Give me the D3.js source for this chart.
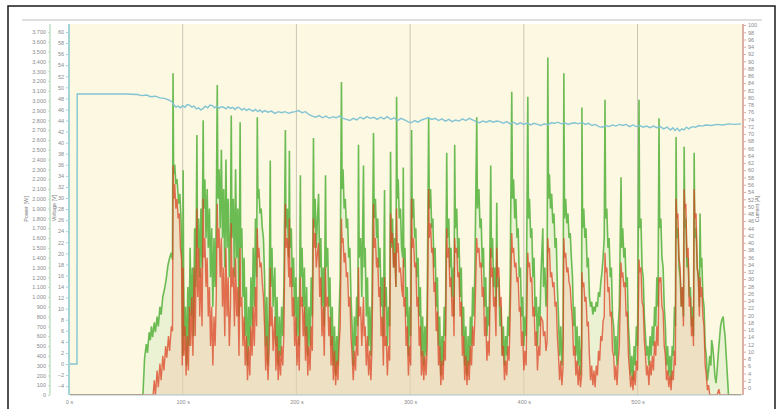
<!DOCTYPE html>
<html>
<head>
<meta charset="utf-8">
<title>Power / Voltage log</title>
<script src="https://d3js.org/d3.v7.min.js"></script>
<style>
  body { margin: 0; background: #fff; }
  svg { display: block; font-family: "Liberation Sans", Arial, sans-serif; }
</style>
</head>
<body>
<svg id="chart" width="778" height="409"></svg>
<script>
// tick labels
let timeTicks = [0, 100, 200, 300, 400, 500];
let powerTicks = d3.range(0, 3701, 100);
let voltTicks = d3.range(-4, 61, 2);
let rightTicks = d3.range(0, 101, 2);

// battery voltage [s, V]
let voltage = [[0,0],[7,0],[7.2,48.8],[30,48.8],[50,48.8],[60,48.7],[64,48.5],[68,48.6],[72,48.3],[76,48.4],[80,48.1],[84,48.0],[88,47.7],[90.5,47.4],[92,46.9],[94,46.4],[96,46.6],[98,46.3],[100,46.7],[102,46.4],[104,46.9],[106,46.8],[108,46.4],[110,46.6],[112,46.1],[114,46.3],[116,45.9],[118,46.2],[120,46.6],[122,46.3],[124,46.8],[126,46.7],[128,46.3],[130,46.6],[132,46.2],[134,46.5],[136,46.4],[138,46.1],[140,46.5],[142,46.2],[144,46.4],[146,46.0],[148,46.4],[150,46.3],[152,45.9],[154,46.2],[156,45.8],[158,46.1],[160,45.9],[162,45.7],[164,46.0],[166,45.6],[168,45.9],[170,45.5],[172,45.8],[175,45.5],[178,45.7],[181,45.3],[184,45.6],[187,45.4],[190,45.6],[193,45.3],[196,45.5],[199,45.6],[202,45.8],[205,45.4],[208,45.6],[211,45.1],[214,44.8],[217,44.6],[220,44.9],[223,44.5],[226,44.8],[229,44.4],[232,44.7],[235,44.5],[238,44.8],[241,44.4],[244,44.2],[247,44.0],[250,44.4],[253,44.1],[256,44.6],[259,44.3],[262,44.7],[265,44.4],[268,44.6],[271,44.2],[274,44.6],[277,44.3],[280,44.7],[283,44.2],[286,44.5],[289,44.0],[292,44.4],[295,44.1],[298,43.8],[301,43.6],[304,44.0],[307,43.7],[310,44.1],[313,44.3],[316,44.5],[319,44.2],[322,44.4],[325,44.0],[328,44.3],[331,43.9],[334,44.2],[337,43.8],[340,44.1],[343,43.9],[346,44.3],[349,44.0],[352,44.4],[355,44.1],[358,43.8],[361,43.6],[364,43.9],[367,43.7],[370,44.0],[373,43.7],[376,43.9],[379,43.8],[382,43.5],[385,43.8],[388,43.4],[391,43.7],[394,43.3],[397,43.6],[400,43.3],[403,43.6],[406,43.2],[409,43.5],[412,43.3],[415,43.1],[418,43.4],[421,43.2],[424,43.6],[427,43.5],[430,43.7],[433,43.4],[436,43.6],[439,43.3],[442,43.5],[445,43.6],[448,43.4],[451,43.7],[454,43.3],[457,43.5],[460,43.1],[463,43.3],[466,42.9],[469,42.8],[472,43.1],[475,42.9],[478,43.2],[481,43.0],[484,43.3],[487,43.1],[490,43.3],[493,42.9],[496,43.2],[499,42.9],[502,43.1],[505,42.8],[508,43.0],[511,42.7],[514,43.0],[517,42.7],[520,42.9],[523,42.5],[526,42.8],[529,42.3],[531,42.7],[533,42.2],[535,42.6],[537,42.1],[539,42.5],[541,42.3],[543,42.8],[545,42.5],[548,42.9],[551,42.8],[554,43.1],[557,43.0],[560,43.2],[565,43.1],[570,43.3],[575,43.2],[580,43.4],[585,43.3],[591,43.4]];

// motor power [s, W]
let powerGreen = [[0,0],[65,0],[66.5,380],[68,520],[69,430],[70.5,640],[71.5,560],[72.5,700],[73.5,590],[75,740],[76,640],[77.5,800],[78.5,700],[80,900],[81,820],[82.5,1000],[84,1080],[85.5,1180],[87,1320],[88.5,1400],[90,1450],[91,1380],
[91.5,3280],[92,2250],[93,2350],[94,2150],[95,2200],[96.5,1950],[97.5,2050],[98.5,1800],[99.5,1300],[100,400],[100.4,2290],[100.8,1200],[101.5,600],[102.5,900],[103.5,300],[104.5,1100],[105.5,500],[106.5,1500],[107.5,800],[108.5,1300],[109.5,600],[110.5,1700],[111.5,1100],[112.5,2650],[113,1500],[114,1800],[115,1200],[116,1900],[117,1300],
[118,2800],[118.5,1900],[119.5,2200],[120.5,1600],[121.5,2100],[122.5,1500],[123.5,1900],[124.5,1200],[125.5,1700],[126.5,900],[127.5,1600],[128.5,1100],[129.5,1800],
[130.4,3160],[131,2000],[132,2300],[133,1700],[134,2500],[135,1600],[136,2100],[137,1300],[138,2400],[139,1500],[140,2000],[141,1200],[142,1700],
[142.7,2850],[143.3,1600],[144.5,2000],[145.5,1200],[146.5,2300],[147.5,1400],[148.5,1900],[149.5,800],[150.5,2780],[151,1500],[152,1700],[153,1000],[154,1400],[155,600],[156,1100],[157,300],[158,900],[159,500],[160,1200],[161,700],[162,1500],[163,900],[164,1800],[165,1200],
[165.6,2830],[166.2,2000],[167,2100],[168,1850],[169,1900],[170,1700],[171,1600],[172,1200],[173,500],[174,1000],[175,300],[176,800],[177,2390],[177.5,1100],[178.5,1500],[179.5,900],[181,1300],[182,500],[183,1000],[184,300],[185,800],[186,400],[187,900],[188,600],[189,1100],
[190.3,2700],[190.8,1700],[192,1900],[193.3,1400],[193.8,2490],[194.3,1500],[195.5,1700],[196.5,1100],[197.5,1400],[198.5,800],[199.5,1200],[200.5,600],[201.5,1000],[202.5,500],
[203.5,2240],[204,1200],[205,1500],[206,900],[207,1300],[208,600],[209,1100],[210,400],[211,900],[212,500],[213,1200],[214,800],
[215,2620],[215.5,1700],[216.5,2000],[217.5,1500],[218.5,1800],[219.5,2050],[220.5,1300],[221.5,1600],[222.5,900],[223.5,1300],[224.5,700],
[225.6,2240],[226.2,1300],[227.5,1500],[228.5,900],[229.5,1200],[230.5,500],[231.5,900],[232.5,300],[233.5,700],[234.5,200],[235.5,600],[236.5,300],[237.5,800],[238.5,1200],
[239.6,3190],[240.2,2100],[241,2300],[242,1900],[243,2000],[244,1700],[245,1800],[246,1400],[247,1500],[248,1000],[249,700],[250,300],[251,800],[252,500],[253,1000],[254,700],
[254.6,2550],[255.2,1400],[256.5,1600],[257.5,1000],[259,2340],[259.6,1300],[260.5,1500],[261.5,800],[262.5,1200],[263.5,500],[264.5,900],[265.5,400],[266.5,1000],
[267.8,2670],[268.4,1800],[269.5,2000],[270.5,1600],[271.5,1800],[272.5,1300],[273.5,1500],[274.5,900],[275.5,1200],[276.5,600],[277.5,2090],[278,900],[279,1100],[280,500],[281,900],[282,700],
[282.8,2480],[283.4,1500],[284.5,1800],[285.5,1300],[286.5,1600],[287.5,1100],
[288.1,3040],[288.7,2000],[289.5,2200],[290.5,1800],[291.5,1900],[292.5,1500],[293.5,1400],[294,2320],[294.5,1300],[295.5,1500],[296.5,800],[297.5,1100],[298.5,400],[299.5,900],[300.5,600],
[301.3,2700],[301.9,1800],[303,2000],[304,1600],[305,1700],[306,1200],[307,1400],[308,800],[309,1100],[310,400],[311,800],[312,300],[313,700],[314,400],[315,900],
[316.3,2830],[316.9,1900],[318,2100],[319,1700],[320,1800],[321,1300],[322,1500],[323,900],[324,1200],[325,500],[326,800],[327,200],[328,600],[329,300],[330,900],[331,600],
[332.2,2470],[332.8,1600],[334,1800],[335,1300],[336,1500],[337,1000],[338,1300],[338.6,800],
[339.2,2550],[339.8,1700],[341,1900],[342,1400],[343,1600],[344,1000],[345,1300],[346,600],[347,900],[348,300],[349,700],[350,200],[351,600],[352,300],[353,800],[354,500],[355,1100],[356,800],[357,1300],
[358.6,2830],[359.2,1900],[360.5,2100],[361.5,1700],[362.5,1800],[363.5,1300],[364.5,1500],[365.5,900],[366.5,1200],[367.5,600],[368.5,900],[369.5,700],
[370.9,2340],[371.5,1400],[372.5,1600],[373.5,1100],[374.5,1300],[375.5,900],
[376.2,1960],[376.8,1100],[378,1200],[379,700],[380,900],[381,400],[382,700],[383,300],[384,600],[385,400],[386,800],[387,600],[388,1200],
[389.4,3090],[390,2000],[391,2200],[392,1800],[393,2000],[394,1600],[395,1700],[396,1200],[397,1300],[398,800],[399,1000],[400,500],[401,800],[402,600],
[403.5,3040],[404.1,1800],[405,2000],[406,1600],[407,1700],[408,1200],[409,1400],[410,800],[411,1000],[412,500],[413,900],[414,700],[415,1200],
[416.7,1700],[417.3,1100],[418.5,1300],[419.5,900],[420.5,1200],
[421.1,3440],[421.7,2000],[422.5,2250],[423.5,1900],[424.5,2050],[425.5,1750],[426.5,1850],[427.5,1500],[428.5,1600],[429.5,1100],[430.5,800],[431.5,400],[432.5,700],[433.5,300],[434.5,600],
[435.2,3280],[435.8,1800],[436.8,2000],[437.8,1750],[438.8,1850],[439.8,1600],[440.8,1650],[441.8,1400],[442.8,1200],[443.8,700],[444.8,900],[445.8,400],[446.8,700],[447.8,300],[448.8,600],[449.8,200],[450.8,500],
[451.1,2930],[451.7,1700],[452.7,1900],[453.7,1600],[454.7,1700],[455.7,1300],[456.7,1400],[457.7,1000],[458.7,900],[459.7,950],[460.7,820],[461.7,900],[462.7,850],[463.7,950],[464.7,900],[465.7,1050],[466.7,1000],[467.7,1150],[468.7,1250],[469.7,1400],[470.7,1600],
[471.4,3010],[472,1800],[473,1900],[474,1500],[475,1600],[476,1200],[477,1300],[478,800],[479,700],[480,400],[481,600],[482,300],[483,700],[484,900],
[485.5,2220],[486.1,1500],[487,1700],[488,1400],[489,1500],[490,1100],[491,1200],[492,700],[493,500],[494,200],[495,400],[496,150],[497,500],[498,300],[499,700],[500,500],
[501.3,3010],[501.9,1700],[503,1800],[504,1300],[505,1200],[506,800],[507,600],[508,400],[509,500],[510,300],[511,600],[512,400],[513,700],[514,500],[515,900],[516,700],[517,1200],[518,900],
[518.9,2820],[519.5,1700],[520.5,1800],[521.5,1400],[522.5,1300],[523.5,900],[524.5,700],[525.5,300],[526.5,500],[527.5,200],[528.5,400],[529.5,150],[530.5,500],[531.5,400],[532.5,900],[533.3,700],
[533.9,2630],[534.5,1600],[535.5,1700],[536.5,1300],[537.5,1200],[538.5,900],[539.5,1100],[540.4,800],
[541,2530],[541.6,1700],[542.5,1800],[543.5,1300],[544.5,1400],[545.5,1000],[546.5,1100],[547.5,700],[548.5,900],[549.2,600],
[549.8,2470],[550.4,1600],[551.5,1700],[552.5,1300],[553.5,1200],[554.4,900],
[555,1850],[555.6,1300],[556.5,1400],[557.5,1000],[558.5,900],[559.5,500],[560.5,400],[561.5,150],[562.5,250],[563.5,400],[564.5,300],
[565.2,560],[566,500],[567,380],[568,200],[569,120],[570,250],[571,420],[572,560],[573,700],[574,760],[575.3,800],[576,700],[577,600],[578,400],[579,200],[580,0],[591,0]];

// battery side power [s, W]
let powerRed = [[0,0],[74,0],[75,150],[76,0],[77.5,250],[78.5,80],[80,320],[81,150],[82.5,400],[83.5,250],[85,500],[86,380],[87.5,600],[88.5,450],[90,700],[91,650],
[91.6,2340],[92.2,2000],[93,2150],[94,1900],[95,2000],[96,1800],[97,1850],[98,1500],[99,1380],[99.6,300],[100.4,1300],[101,400],[102,700],[103,200],[104,600],[105,250],[106,900],[107,500],[108,1000],[109,400],
[110,1300],[111,600],[112.5,1900],[113.2,1000],[114,1500],[115,800],[116,1300],[117,700],
[118,2000],[118.6,1400],[119.5,1600],[120.5,1100],[121.5,1400],[122.5,800],[123.5,1100],[124.5,500],[125.5,900],[126.5,300],[127.5,800],[128.5,500],[129.5,1000],
[130.4,1950],[131,1500],[132,1700],[133,1200],[134,1600],[135,900],[136,1300],[137,600],[138,1500],[139,800],[140,1200],[141,500],[142,900],
[142.7,1750],[143.3,1100],[144.5,1300],[145.5,700],[146.5,1400],[147.5,800],[148.5,1100],[149.5,400],[150.5,1500],[151,900],[152,1000],[153,500],[154,800],[155,300],[156,600],[157,150],[158,500],[159,200],[160,700],[161,400],[162,900],[163,500],[164,1100],[165,700],
[165.6,1700],[166.2,1400],[167,1500],[168,1300],[169,1350],[170,1150],[171,1000],[172,700],[173,250],[174,600],[175,150],[176,450],[177,1300],[177.5,700],[178.5,900],[179.5,450],[181,800],[182,250],[183,600],[184,150],[185,450],[186,200],[187,500],[188,300],[189,650],
[190.3,1950],[190.8,1500],[192,1600],[193.3,1200],[193.8,1800],[194.3,1100],[195.5,1300],[196.5,800],[197.5,1000],[198.5,500],[199.5,800],[200.5,300],[201.5,600],[202.5,250],
[203.5,1200],[204,900],[205,1000],[206,600],[207,900],[208,350],[209,700],[210,200],[211,500],[212,250],[213,700],[214,450],
[215,1800],[215.5,1500],[216.5,1650],[217.5,1300],[218.5,1450],[219.5,1550],[220.5,1000],[221.5,1200],[222.5,600],[223.5,900],[224.5,400],
[225.6,1300],[226.2,900],[227.5,1000],[228.5,600],[229.5,800],[230.5,300],[231.5,600],[232.5,150],[233.5,450],[234.5,100],[235.5,350],[236.5,150],[237.5,500],[238.5,700],
[239.6,1800],[240.2,1550],[241,1600],[242,1350],[243,1450],[244,1200],[245,1250],[246,900],[247,1000],[248,600],[249,400],[250,150],[251,450],[252,250],[253,600],[254,400],
[254.6,1300],[255.2,800],[256.5,900],[257.5,500],[259,1000],[259.6,600],[260.5,700],[261.5,300],[262.5,600],[263.5,200],[264.5,450],[265.5,150],[266.5,500],
[267.8,1950],[268.4,1500],[269.5,1600],[270.5,1300],[271.5,1400],[272.5,1000],[273.5,1100],[274.5,600],[275.5,800],[276.5,300],[277.5,1200],[278,500],[279,600],[280,200],[281,500],[282,350],
[282.8,1850],[283.4,1550],[284.5,1650],[285.5,1300],[286.5,1450],[287.5,1100],
[288.1,1900],[288.7,1450],[289.5,1550],[290.5,1250],[291.5,1300],[292.5,1100],[293.5,1000],[294,1400],[294.5,900],[295.5,1000],[296.5,500],[297.5,700],[298.5,200],[299.5,500],[300.5,300],
[301.3,2000],[301.9,1500],[303,1600],[304,1300],[305,1350],[306,900],[307,1000],[308,500],[309,700],[310,200],[311,450],[312,150],[313,400],[314,200],[315,500],
[316.3,2100],[316.9,1600],[318,1750],[319,1450],[320,1500],[321,1050],[322,1150],[323,650],[324,850],[325,300],[326,500],[327,100],[328,350],[329,150],[330,550],[331,350],
[332.2,1700],[332.8,1400],[334,1500],[335,1100],[336,1200],[337,800],[338,1000],[338.6,600],
[339.2,1600],[339.8,1450],[341,1500],[342,1200],[343,1250],[344,800],[345,950],[346,400],[347,600],[348,150],[349,400],[350,100],[351,350],[352,150],[353,500],[354,300],[355,700],[356,500],[357,800],
[358.6,1600],[359.2,1450],[360.5,1500],[361.5,1300],[362.5,1350],[363.5,1000],[364.5,1100],[365.5,600],[366.5,800],[367.5,350],[368.5,550],[369.5,400],
[370.9,1500],[371.5,1200],[372.5,1300],[373.5,900],[374.5,1000],[375.5,600],
[376.2,1500],[376.8,1200],[378,1300],[379,900],[380,1000],[381,400],[382,500],[383,150],[384,350],[385,200],[386,500],[387,350],[388,800],
[389.4,1650],[390,1450],[391,1500],[392,1300],[393,1350],[394,1150],[395,1200],[396,850],[397,900],[398,500],[399,650],[400,250],[401,450],[402,300],
[403.5,1450],[404.1,1300],[405,1350],[406,1150],[407,1200],[408,800],[409,900],[410,500],[411,650],[412,250],[413,500],[414,400],[415,800],
[416.7,750],[417.3,600],[418.5,650],[419.5,450],[420.5,550],
[421.1,1600],[421.7,1450],[422.5,1500],[423.5,1200],[424.5,1250],[425.5,1100],[426.5,1150],[427.5,900],[428.5,950],[429.5,600],[430.5,400],[431.5,150],[432.5,350],[433.5,100],[434.5,300],
[435.2,1600],[435.8,1400],[436.8,1450],[437.8,1250],[438.8,1300],[439.8,1150],[440.8,1100],[441.8,900],[442.8,750],[443.8,400],[444.8,500],[445.8,200],[446.8,350],[447.8,100],[448.8,300],[449.8,80],[450.8,200],
[451.1,1250],[451.7,1100],[452.7,1150],[453.7,950],[454.7,1000],[455.7,700],[456.7,750],[457.7,400],[458.7,150],[459.7,300],[460.7,100],[461.7,250],[462.7,80],[463.7,300],[464.7,200],[465.7,450],[466.7,350],[467.7,600],[468.7,550],[469.7,750],[470.7,800],
[471.4,1450],[472,1250],[473,1300],[474,1050],[475,1100],[476,800],[477,850],[478,450],[479,400],[480,150],[481,300],[482,100],[483,350],[484,500],
[485.5,1350],[486.1,1200],[487,1250],[488,1100],[489,1150],[490,800],[491,850],[492,400],[493,250],[494,80],[495,200],[496,50],[497,250],[498,100],[499,350],[500,250],
[501.3,1380],[501.9,1250],[503,1300],[504,950],[505,900],[506,550],[507,400],[508,200],[509,300],[510,100],[511,350],[512,200],[513,400],[514,250],[515,550],[516,400],[517,700],[518,500],
[518.9,1200],[519.5,1150],[520.5,1200],[521.5,900],[522.5,850],[523.5,500],[524.5,400],[525.5,150],[526.5,250],[527.5,80],[528.5,200],[529.5,50],[530.5,250],[531.5,150],[532.5,450],[533.3,300],
[533.9,2000],[534.5,1800],[535.5,1850],[536.5,1400],[537.5,1300],[538.5,900],[539.5,1100],[540.4,700],
[541,2100],[541.6,1900],[542.5,1950],[543.5,1400],[544.5,1500],[545.5,900],[546.5,1000],[547.5,600],[548.5,800],[549.2,500],
[549.8,2100],[550.4,1800],[551.5,1850],[552.5,1300],[553.5,1200],[554.4,800],
[555,1200],[555.6,1000],[556.5,1100],[557.5,800],[558.5,700],[559.5,300],[560.5,200],[561.5,50],[562.5,100],[563.5,0],[570,0],[571.5,60],[572.5,0],[591,0]];

let svg = d3.select("#chart");

let plot = {left: 70, right: 742, top: 24, bottom: 395};

let x = d3.scaleLinear().domain([0, 591]).range([69, 741]);
let yP = d3.scaleLinear().domain([0, 3700]).range([395, 32]);
let yV = d3.scaleLinear().domain([0, 60]).range([364, 32]);
let yR = d3.scaleLinear().domain([0, 100]).range([388, 25]);

let de = d3.formatLocale({decimal: ",", thousands: ".", grouping: [3], currency: ["", " €"]});
let fmtP = de.format(",d");

// outer frame
svg.append("rect")
    .attr("x", 8).attr("y", 6)
    .attr("width", 767).attr("height", 412)
    .attr("fill", "#fff")
    .attr("stroke", "#1a1a1a").attr("stroke-width", 1.5);

svg.append("line")
    .attr("x1", 22).attr("x2", 762).attr("y1", 20).attr("y2", 20)
    .attr("stroke", "#d4d4d4").attr("stroke-width", 1.5);

// plot background
svg.append("rect")
    .attr("x", plot.left).attr("y", plot.top)
    .attr("width", plot.right - plot.left).attr("height", plot.bottom - plot.top)
    .attr("fill", "#fdf8e2");

svg.append("defs").append("clipPath").attr("id", "clip")
    .append("rect")
    .attr("x", plot.left).attr("y", plot.top)
    .attr("width", plot.right - plot.left).attr("height", plot.bottom - plot.top);

// vertical grid
svg.append("g").selectAll("line")
    .data(timeTicks.filter(d => d > 0))
    .join("line")
    .attr("x1", d => x(d)).attr("x2", d => x(d))
    .attr("y1", plot.top).attr("y2", plot.bottom)
    .attr("stroke", "#cbc6b6").attr("stroke-width", 1);

let g = svg.append("g").attr("clip-path", "url(#clip)");

let areaG = d3.area().x(d => x(d[0])).y0(yP(0)).y1(d => yP(d[1]));
let lineP = d3.line().x(d => x(d[0])).y(d => yP(d[1]));
let lineV = d3.line().x(d => x(d[0])).y(d => yV(d[1]));

g.append("path").datum(powerGreen)
    .attr("d", areaG).attr("fill", "#d3ecc2").attr("opacity", 0.45);
g.append("path").datum(powerRed)
    .attr("d", areaG).attr("fill", "#f7c0a6").attr("opacity", 0.35);
g.append("path").datum(powerGreen)
    .attr("d", lineP).attr("fill", "none")
    .attr("stroke", "#5cb544").attr("stroke-width", 1.6).attr("opacity", 0.9);
g.append("path").datum(powerRed)
    .attr("d", lineP).attr("fill", "none")
    .attr("stroke", "#dc4424").attr("stroke-width", 1.4).attr("opacity", 0.75);
g.append("path").datum(voltage)
    .attr("d", lineV).attr("fill", "none")
    .attr("stroke", "#82c4d3").attr("stroke-width", 1.4);

// axes
let axisStyle = function(sel, color) {
    sel.select(".domain").remove();
    sel.selectAll(".tick line").attr("stroke", color);
    sel.selectAll(".tick text").attr("fill", "#8a8a8a").attr("font-size", 5.5);
};

svg.append("line")
    .attr("x1", 50).attr("x2", 50).attr("y1", plot.top).attr("y2", plot.bottom)
    .attr("stroke", "#bfe0c4").attr("stroke-width", 1.5);
svg.append("g").attr("transform", "translate(50,0)")
    .call(d3.axisLeft(yP).tickValues(powerTicks).tickFormat(fmtP).tickSize(2).tickPadding(2))
    .call(axisStyle, "#bfe0c4");

svg.append("line")
    .attr("x1", 69).attr("x2", 69).attr("y1", plot.top).attr("y2", plot.bottom)
    .attr("stroke", "#a4d4d8").attr("stroke-width", 2);
svg.append("g").attr("transform", "translate(68,0)")
    .call(d3.axisLeft(yV).tickValues(voltTicks).tickSize(2).tickPadding(2))
    .call(axisStyle, "#a4d4d8");

svg.append("line")
    .attr("x1", 743).attr("x2", 743).attr("y1", plot.top).attr("y2", plot.bottom)
    .attr("stroke", "#dcb0a4").attr("stroke-width", 2);
svg.append("g").attr("transform", "translate(744,0)")
    .call(d3.axisRight(yR).tickValues(rightTicks).tickSize(2).tickPadding(2))
    .call(axisStyle, "#dcb0a4");

svg.append("line")
    .attr("x1", plot.left).attr("x2", plot.right).attr("y1", plot.bottom).attr("y2", plot.bottom)
    .attr("stroke", "#a9c4cc").attr("stroke-width", 1.2);
svg.append("g").attr("transform", "translate(0," + plot.bottom + ")")
    .call(d3.axisBottom(x).tickValues(timeTicks).tickFormat(d => d + " s").tickSize(0).tickPadding(5))
    .call(axisStyle, "#aaa");

// axis titles
let title = function(tx, ty, label) {
    svg.append("text")
        .attr("transform", "translate(" + tx + "," + ty + ") rotate(-90)")
        .attr("text-anchor", "middle")
        .attr("font-size", 5.5).attr("fill", "#7a7a7a")
        .text(label);
};
title(28, 209, "Power [W]");
title(56, 208, "Voltage [V]");
title(759, 209, "Current [A]");
</script>
</body>
</html>
